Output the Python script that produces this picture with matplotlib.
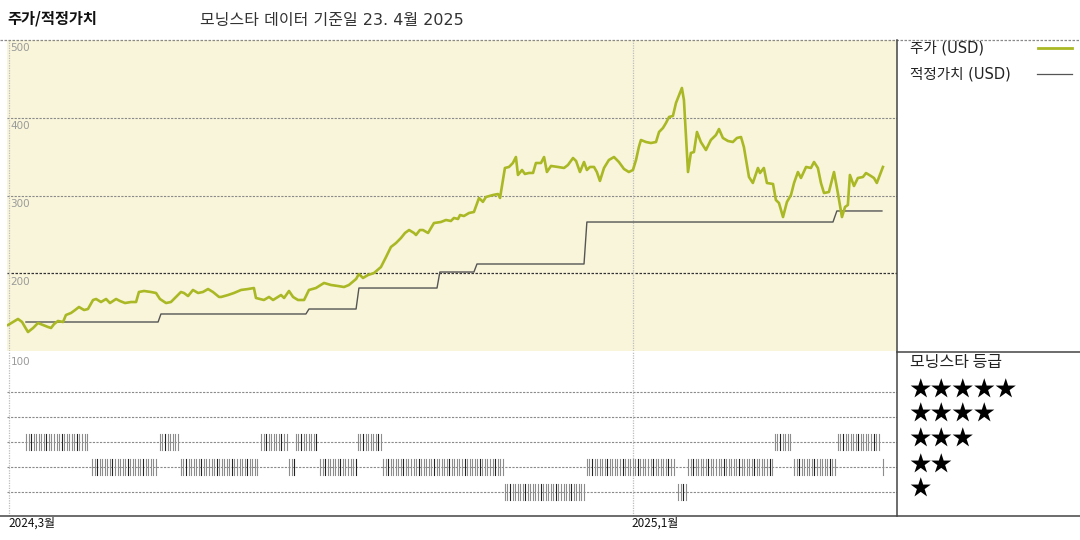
import matplotlib
matplotlib.use('Agg')
import matplotlib.pyplot as plt
from matplotlib.lines import Line2D
from matplotlib.transforms import blended_transform_factory
import numpy as np

plt.rcParams['font.family'] = ['Noto Sans CJK KR', 'DejaVu Sans']

# ---- data (days since 2024-03-01) ----
price_day = [0, 2.5, 4.9, 6.9, 8.3, 9.8, 12.3, 14.7, 17.2, 19.6, 21.1, 22.6, 24.5, 27.0, 28.4,
             30.9, 32.9, 34.8, 37.3, 39.2, 41.7, 43.2, 45.6, 48.1, 50.0, 53.0, 54.9, 57.4, 60.3,
             62.8, 64.2, 66.7, 70.1, 72.6, 74.5, 77.5, 79.9, 82.4, 84.8, 86.3, 88.3, 90.7, 93.2,
             95.6, 98.1, 100.5, 103.5, 104.5, 107.9, 110.8, 114.3, 117.7, 120.6, 121.6, 125.5,
             128.0, 130.0, 133.9, 135.4, 137.8, 139.8, 142.2, 145.2, 147.6, 151.0, 155.0, 158.4,
             161.8, 164.8, 167.2, 170.7, 172.1, 174.1, 176.6, 179.5, 182.9, 185.4, 187.8, 190.3,
             192.7, 194.7, 196.7, 199.1, 200.1, 202.0, 203.5, 206.0, 208.9, 212.3, 214.8, 217.2,
             218.7, 220.7, 221.7, 223.6, 226.1, 228.5, 231.0, 232.9, 234.4, 237.8, 240.3, 241.3,
             243.7, 245.7, 247.6, 249.1, 250.1, 252.1, 253.5, 255.5, 257.5, 258.9, 261.4, 262.9,
             264.3, 266.3, 269.7, 272.7, 274.6, 277.1, 278.6, 280.5, 282.5, 283.9, 285.4, 287.4,
             288.8, 290.3, 292.3, 294.7, 297.2, 299.6, 302.1, 304.5, 306.5, 308.0, 309.4, 310.4,
             312.9, 315.3, 317.8, 319.3, 321.2, 322.7, 324.2, 326.1, 327.6, 330.5, 331.5, 333.5,
             334.9, 336.4, 337.9, 339.8, 342.3, 344.7, 347.2, 348.7, 350.6, 353.1, 355.5, 357.5,
             359.5, 360.9, 363.4, 365.3, 367.8, 368.8, 370.7, 372.2, 375.2, 376.6, 378.1, 380.1,
             382.0, 384.0, 385.5, 387.4, 388.9, 391.4, 393.8, 395.3, 397.2, 398.7, 400.2, 402.6,
             405.1, 407.0, 409.0, 410.5, 411.9, 412.9, 414.9, 416.8, 419.3, 420.8, 423.2, 424.7,
             426.1, 429.1]
price_usd = [133.4, 137.3, 141.2, 137.3, 130.9, 124.4, 129.6, 136.0, 133.4, 130.9, 129.6, 134.7,
             138.6, 137.3, 146.3, 148.9, 152.7, 156.6, 152.7, 154.0, 165.6, 166.9, 163.0, 166.9,
             161.7, 166.9, 164.3, 161.7, 163.0, 163.0, 175.9, 177.2, 175.9, 174.6, 166.9, 161.7,
             163.0, 169.5, 175.9, 174.6, 170.7, 178.5, 174.6, 175.9, 179.7, 175.9, 169.5, 169.5,
             172.0, 174.6, 178.5, 179.7, 181.0, 168.2, 165.6, 169.5, 165.6, 172.0, 168.2, 177.2,
             169.5, 165.6, 165.6, 178.5, 181.0, 187.5, 184.9, 183.6, 182.3, 184.9, 192.6, 199.0,
             193.9, 197.8, 200.3, 208.0, 220.9, 233.8, 238.9, 245.3, 251.8, 255.6, 251.8, 249.2,
             255.6, 255.6, 251.8, 264.6, 265.9, 268.5, 267.2, 271.1, 269.8, 274.9, 273.6, 277.5,
             278.8, 296.8, 291.8, 298.1, 300.6, 301.9, 296.8, 335.4, 336.7, 341.8, 349.5, 326.4,
             332.8, 327.7, 329.0, 329.0, 341.8, 341.8, 349.5, 330.2, 338.0, 336.7, 335.4, 339.2,
             348.2, 344.4, 330.2, 343.1, 332.8, 336.7, 336.7, 330.2, 318.7, 335.4, 345.7, 349.5,
             343.1, 334.1, 330.2, 332.8, 345.7, 362.4, 371.4, 368.8, 367.5, 368.8, 381.7, 386.8,
             393.3, 401.0, 402.3, 419.0, 438.3, 422.8, 330.2, 354.7, 355.9, 381.7, 368.8, 358.5,
             371.4, 377.8, 385.5, 374.0, 370.1, 368.8, 374.0, 375.2, 362.4, 323.8, 316.1, 335.4,
             328.9, 335.4, 316.1, 314.8, 294.2, 290.4, 272.3, 291.6, 300.6, 316.1, 330.2, 322.5,
             336.7, 335.4, 343.1, 335.4, 316.1, 303.2, 304.5, 330.2, 303.2, 272.3, 285.2, 287.8,
             326.4, 312.2, 322.5, 323.8, 328.9, 325.1, 322.5, 316.1, 336.7]

fv_day = [8.8, 73.6, 75.0, 146.1, 147.6, 170.7, 172.1, 210.4, 211.8, 228.5, 230.0,
          282.5, 283.9, 404.6, 406.5, 428.6]
fv_usd = [137.3, 137.3, 147.6, 147.6, 154.0, 154.0, 181.0, 181.0, 201.6, 201.6, 211.9,
          211.9, 265.9, 265.9, 280.1, 280.1]

# rating periods: start day, end day, star rating
rating_start = [8.8, 74.5, 124.1, 141.2, 171.6, 376.1, 407.0,
                41.2, 84.8, 137.8, 153.0, 183.9, 283.9, 333.5, 385.5, 429.1,
                243.7, 328.6]
rating_end = [39.7, 83.4, 136.8, 152.0, 182.9, 384.5, 428.1,
              73.6, 123.1, 140.3, 170.7, 243.2, 327.6, 375.2, 406.1, 429.1,
              283.0, 332.5]
rating_stars = [3, 3, 3, 3, 3, 3, 3,
                2, 2, 2, 2, 2, 2, 2, 2, 2,
                1, 1]

price_ticks = [500, 400, 300, 200]
x_tick_days = [0, 306]
x_tick_labels = ['2024,3월', '2025,1월']
star_levels = [5, 4, 3, 2, 1]

title_left = '주가/적정가치'
title_mid = '모닝스타 데이터 기준일 23. 4월 2025'
legend_price = '주가 (USD)'
legend_fv = '적정가치 (USD)'
rating_title = '모닝스타 등급'

# ---- styling ----
W, H = 1080, 540
GREEN = '#a9b824'
FVCOL = '#555555'
BG = '#f9f5da'
LAT = ['DejaVu Sans', 'Noto Sans CJK KR']

fig = plt.figure(figsize=(W / 100, H / 100), dpi=100)

def fx(px):
    return px / W

def fy(py):
    return 1 - py / H

XMIN, XMAX = -0.5, 436.0
left, right = 7, 897
ax = fig.add_axes([fx(left), fy(351), fx(right - left), fy(40) - fy(351)])
ax.set_facecolor(BG)
ax.set_xlim(XMIN, XMAX)
ax.set_ylim(100, 500)
for s in ax.spines.values():
    s.set_visible(False)
ax.set_xticks([])
ax.set_yticks([])

for v in [400, 300]:
    ax.axhline(v, color='#8a8a8a', lw=0.8, ls=(0, (2, 1.2)), zorder=1)
ax.axhline(200, color='#333333', lw=0.9, ls=(0, (2, 1.2)), zorder=1)
for d in x_tick_days:
    ax.axvline(d + 0.5, color='#bdbdbd', lw=0.9, ls=(0, (1, 1)), zorder=1)

ax.plot(fv_day, fv_usd, color=FVCOL, lw=1.0, zorder=2)
ax.plot(price_day, price_usd, color=GREEN, lw=1.9, zorder=3, solid_joinstyle='round')

trans = blended_transform_factory(ax.transAxes, ax.transData)
for v in price_ticks:
    ax.annotate(str(v), xy=(0.004, v), xycoords=trans, xytext=(0, -6),
                textcoords='offset points', ha='left', va='center',
                fontsize=7.5, color='#9a9a9a', family=['DejaVu Sans'])

# ---- rating panel ----
ax2 = fig.add_axes([fx(left), fy(516), fx(right - left), fy(351) - fy(516)])
ax2.set_xlim(XMIN, XMAX)
ax2.set_ylim(0.04, 6.64)
for s in ax2.spines.values():
    s.set_visible(False)
ax2.set_xticks([])
ax2.set_yticks([])
for lv in star_levels:
    ax2.axhline(lv, color='#8a8a8a', lw=0.8, ls=(0, (2, 1.2)), zorder=1)
for d in x_tick_days:
    ax2.axvline(d + 0.5, color='#bdbdbd', lw=0.9, ls=(0, (1, 1)), zorder=1)

for s0, s1, r in zip(rating_start, rating_end, rating_stars):
    xs = np.arange(s0, s1 + 0.01, 1.25)
    for i, xv in enumerate(xs):
        c = '#222222' if (i % 6 == 2) else '#8c8c8c'
        ax2.plot([xv, xv], [r - 0.33, r + 0.33], color=c, lw=0.8, zorder=2)

trans2 = blended_transform_factory(ax2.transAxes, ax2.transAxes)
ax2.text(0.004, 0.935, '100', transform=trans2, ha='left', va='center',
         fontsize=7.5, color='#9a9a9a', family=['DejaVu Sans'])

for d, lab in zip(x_tick_days, x_tick_labels):
    fig.text(fx(left + 1 + d * (right - left) / (XMAX - XMIN)), fy(523), lab,
             ha='left', va='center', fontsize=8.5, color='#111111')

# ---- frame lines ----
fig.add_artist(Line2D([0, 1], [fy(39.5), fy(39.5)], color='#8a8a8a', lw=0.9,
                      ls=(0, (2, 1.2)), transform=fig.transFigure))
fig.add_artist(Line2D([fx(897), fx(897)], [fy(40), fy(516)], color='#444444', lw=1.1,
                      transform=fig.transFigure))
fig.add_artist(Line2D([0, 1], [fy(516), fy(516)], color='#444444', lw=1.1,
                      transform=fig.transFigure))
fig.add_artist(Line2D([fx(897), 1], [fy(351.5), fy(351.5)], color='#444444', lw=1.1,
                      transform=fig.transFigure))

# ---- titles ----
fig.text(fx(7), fy(18), title_left, ha='left', va='center', fontsize=11,
         fontweight='bold', color='#111111')
fig.text(fx(200), fy(20), title_mid, ha='left', va='center', fontsize=11.5,
         color='#333333', family=LAT)

# ---- legend ----
fig.text(fx(910), fy(48), legend_price, ha='left', va='center', fontsize=10.5,
         color='#222222', family=LAT)
fig.add_artist(Line2D([fx(1038), fx(1072)], [fy(48), fy(48)], color=GREEN, lw=2.0,
                      transform=fig.transFigure))
fig.text(fx(910), fy(74), legend_fv, ha='left', va='center', fontsize=10.5,
         color='#222222', family=LAT)
fig.add_artist(Line2D([fx(1037), fx(1072)], [fy(74), fy(74)], color=FVCOL, lw=0.9,
                      transform=fig.transFigure))

fig.text(fx(910), fy(363), rating_title, ha='left', va='center', fontsize=11.5,
         color='#222222')
star_y = {5: 391, 4: 415, 3: 440, 2: 466, 1: 490}
for lv in star_levels:
    fig.text(fx(909), fy(star_y[lv]), '★' * lv, ha='left', va='center', fontsize=15.5,
             color='#000000')

fig.savefig('out.png', dpi=100)
